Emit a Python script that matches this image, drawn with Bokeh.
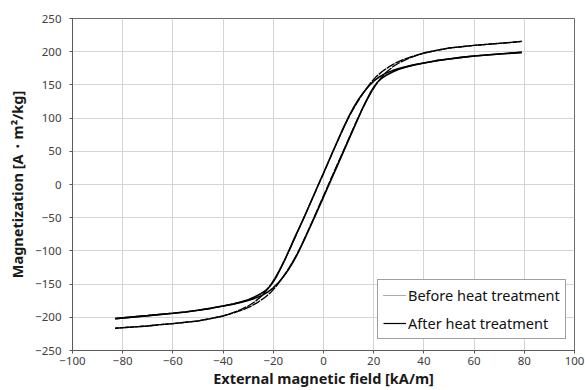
from bokeh.plotting import figure
from bokeh.models import Legend, LegendItem, FixedTicker
from bokeh.embed import file_html
from bokeh.resources import INLINE

# Before heat treatment (loop with larger saturation)
before_desc_x = [79, 75, 70, 65, 60, 55, 50, 45, 40, 36, 32, 29, 26, 23.5, 21, 19, 17, 15, 13, 11, 9, 7,
                 4, 0, -2, -5, -7,
                 -9, -11, -13, -15, -17, -19, -21, -23, -25, -27.5, -30, -33, -36, -40, -45, -50, -55, -60, -65, -70, -83]
before_desc_y = [215.5, 214, 212.5, 211, 209.5, 207.5, 205.5, 202, 198, 193.5, 188.5, 183.5, 177, 170.5, 162.5, 154, 144, 133, 121, 108, 93, 77,
                 51.5, 17, 0, -26, -43,
                 -60, -77, -94, -110, -125, -139, -151, -161, -169, -177, -183, -188.5, -193, -198, -202, -205.5, -207.5, -209.5, -211, -213, -216.5]
before_asc_x = [-83, -70, -65, -60, -55, -50, -45, -40, -36, -32, -29, -26, -23.5, -21, -19, -17, -15, -13, -11, -9, -7,
                -4, 0, 2, 5, 7,
                9, 11, 13, 15, 17, 19, 21, 23, 25, 27.5, 30, 33, 36, 40, 45, 50, 55, 60, 65, 70, 79]
before_asc_y = [-216.5, -213, -211, -209.5, -207.5, -205.5, -202, -198, -193.5, -188.5, -183.5, -177, -170.5, -162.5, -154, -144, -133, -121, -108, -93, -77,
                -51.5, -17, 0, 26, 43,
                60, 77, 94, 110, 125, 139, 151, 161, 169, 177, 183, 188.5, 193, 198, 202, 205.5, 207.5, 209.5, 211, 212.5, 215.5]

# After heat treatment
after_desc_x = [79, 70, 60, 55, 50, 45, 40, 36, 33, 30, 27.5, 24.5, 22, 20, 18, 16, 14, 12, 10, 8,
                4, 0, -2, -5, -8,
                -11.5, -15, -17, -18.5, -20, -21.5, -23, -25, -27.5, -30, -33, -36, -40, -45, -50, -55, -60, -70, -83]
after_desc_y = [199, 196.5, 193.5, 191.5, 189, 186.5, 183, 180.2, 177.5, 174.5, 171.5, 167, 161.5, 155.5, 148, 139, 128.5, 116, 102, 86,
                52, 17, 0, -26, -52,
                -80, -110, -126, -137, -146.5, -154, -159.5, -164.5, -169.5, -173.5, -177, -180, -183, -186.5, -189.5, -192, -194, -197.5, -202]
after_asc_x = [-83, -70, -60, -55, -50, -45, -40, -36, -33, -30, -27.5, -24.5, -22, -20, -18, -16, -14, -12, -10, -8,
               -4, 0, 2.2, 5, 8.5,
               11.5, 15, 17, 18.5, 20, 21.5, 23, 25, 27.5, 30, 33, 36, 40, 45, 50, 55, 60, 70, 79]
after_asc_y = [-202, -197.5, -194, -192, -189.5, -186.5, -183, -180.2, -177.5, -174.5, -171.5, -167, -161.5, -155.5, -148, -139, -128.5, -116, -102, -86,
               -53, -19, 0, 24, 54,
               80, 110, 126, 137, 146.5, 154, 159.5, 164.5, 169.5, 173.5, 177, 180, 183, 186.5, 189, 191.5, 193.5, 196.5, 199]

x_ticks = list(range(-100, 101, 20))
y_ticks = list(range(-250, 251, 50))

FONT = "Noto Sans"

p = figure(width=585, height=390, x_range=(-100, 100), y_range=(-250, 250),
           output_backend="svg", toolbar_location=None,
           min_border_left=72, min_border_right=11, min_border_top=18, min_border_bottom=40)

p.background_fill_color = "white"
p.border_fill_color = "white"
p.outline_line_color = "#6b6b6b"
p.outline_line_width = 1

for ax in (p.xaxis[0], p.yaxis[0]):
    ax.axis_line_color = "#5a5a5a"
    ax.major_tick_line_color = "#5a5a5a"
    ax.major_tick_out = 3
    ax.major_tick_in = 0
    ax.minor_tick_line_color = None
    ax.major_label_text_font = FONT
    ax.major_label_text_font_size = "11.5px"
    ax.major_label_text_color = "#404040"
    ax.axis_label_text_font = FONT
    ax.axis_label_text_font_style = "bold"
    ax.axis_label_text_font_size = "14.5px"
    ax.axis_label_text_color = "#1a1a1a"

p.xaxis.ticker = FixedTicker(ticks=x_ticks)
p.yaxis.ticker = FixedTicker(ticks=y_ticks)
p.xaxis.axis_label = "External magnetic field [kA/m]"
p.yaxis.axis_label = "Magnetization [A・m²/kg]"
p.xaxis.major_label_standoff = 3
p.xaxis.axis_label_standoff = 0
p.yaxis.major_label_standoff = 8
p.yaxis.axis_label_standoff = 5

p.xgrid.ticker = FixedTicker(ticks=x_ticks)
p.ygrid.ticker = FixedTicker(ticks=y_ticks)
p.grid.grid_line_color = "#d4d4d4"
p.grid.grid_line_width = 1

# data lines
p.line(before_desc_x, before_desc_y, line_color="black", line_width=1.4, line_dash="9 1")
p.line(before_asc_x, before_asc_y, line_color="black", line_width=1.4, line_dash="9 1")
p.line(after_desc_x, after_desc_y, line_color="black", line_width=1.6)
p.line(after_asc_x, after_asc_y, line_color="black", line_width=1.6)

# legend sample renderers (placed outside the visible range)
r_before = p.line([500, 510], [900, 900], line_color="#555555", line_width=1, line_dash="1 1")
r_after = p.line([500, 510], [900, 900], line_color="black", line_width=1.2)

legend = Legend(items=[LegendItem(label="Before heat treatment", renderers=[r_before]),
                       LegendItem(label="After heat treatment", renderers=[r_after])],
                location=(305, 11))
legend.border_line_color = "#404040"
legend.border_line_width = 1
legend.background_fill_color = "white"
legend.background_fill_alpha = 1
legend.label_text_font = FONT
legend.label_text_font_size = "14.5px"
legend.label_text_color = "#111111"
legend.padding = 5
legend.spacing = 8
legend.glyph_width = 23
legend.glyph_height = 20
legend.label_height = 20
legend.label_standoff = 2
legend.margin = 0
p.add_layout(legend)

open("out.html", "w").write(file_html(p, INLINE))
